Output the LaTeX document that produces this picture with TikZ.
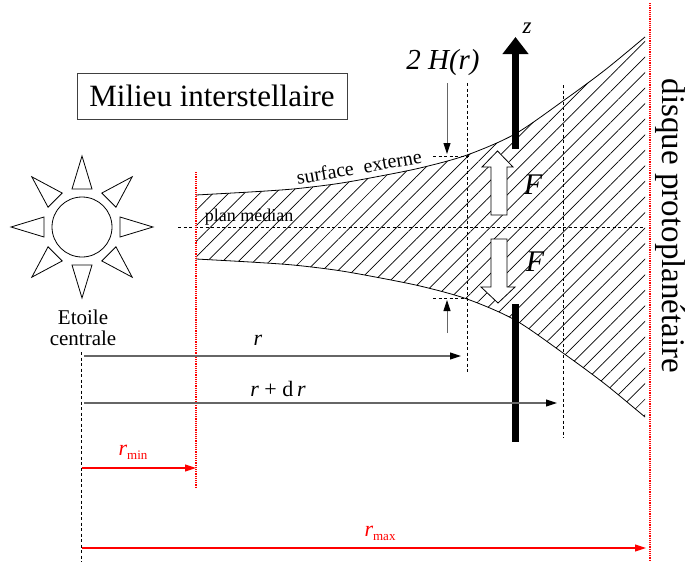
\documentclass[tikz,border=0pt]{standalone}
\usepackage{fontspec}
\setmainfont{Liberation Serif}
\usetikzlibrary{arrows.meta,patterns.meta}
\newcommand{\fsz}[1]{\fontsize{#1}{1.15\dimexpr #1pt\relax}\selectfont}
\begin{document}
\begin{tikzpicture}[x=1pt,y=-1pt,
  thinline/.style={line width=0.8pt},
  fine dash/.style={dash pattern=on 3pt off 2.5pt, line width=0.7pt},
  red dots/.style={red, line width=2.3pt, dash pattern=on 1.2pt off 1pt},
  dimarrow/.style={black!60, line width=1.1pt, -{Triangle[length=11pt,width=7pt,color=black]}},
  redarrow/.style={red, line width=1.1pt, -{Triangle[length=11pt,width=7pt]}},
  blockarrow/.style={draw, fill=white, line width=0.8pt},
  label/.style={inner sep=0pt},
]
\useasboundingbox (0,0) rectangle (688,562);

% ---- hatched disc between the two surfaces
\fill[pattern={Lines[angle=45,distance=11pt,line width=0.7pt]}]
  plot[smooth] coordinates {(196,195) (250,192) (293,189) (335,184) (370,178) (420,168) (467,155) (515,134) (563,101) (605,70) (645,37)}
  -- plot[smooth] coordinates {(645,417) (605,384) (563,353) (515,320) (467,299) (420,286) (370,276) (335,270) (293,265) (250,262) (196,259)}
  -- cycle;
\draw[thinline] plot[smooth] coordinates {(196,195) (250,192) (293,189) (335,184) (370,178) (420,168) (467,155) (515,134) (563,101) (605,70) (645,37)};
\draw[thinline] plot[smooth] coordinates {(196,259) (250,262) (293,265) (335,270) (370,276) (420,286) (467,299) (515,320) (563,353) (605,384) (645,417)};

% ---- central star
\node[circle, draw, thinline, minimum size=60pt, inner sep=0pt] (star) at (82,227) {};
\foreach \a in {0,45,...,315}
  \draw[thinline, shift={(star.center)}, rotate=\a] (38,-10) -- (71,0) -- (38,10) -- cycle;
\node[label, anchor=north, align=center, font=\fsz{21}] (starlbl) at (83,310) {Etoile\\[-3pt]centrale};

% ---- interstellar medium box
\node[draw=black!75, line width=0.9pt, minimum width=270pt, minimum height=46pt, font=\fsz{31}] (ism) at (212,96) {Milieu interstellaire};

% ---- reference lines
\coordinate (axisTop) at (81,352);   \coordinate (axisBot) at (81,562);
\draw[fine dash] (axisTop) -- (axisBot);
\coordinate (midL) at (178,227);     \coordinate (midR) at (643,227);
\draw[fine dash] (midL) -- (midR);
\coordinate (rTop) at (467,83);      \coordinate (rBot) at (467,373);
\draw[fine dash] (rTop) -- (rBot);
\coordinate (drTop) at (563,85);     \coordinate (drBot) at (563,438);
\draw[fine dash] (drTop) -- (drBot);
\coordinate (hUpL) at (433,156);     \coordinate (hUpR) at (470,156);
\draw[fine dash] (hUpL) -- (hUpR);
\coordinate (hLoL) at (433,298);     \coordinate (hLoR) at (467,298);
\draw[fine dash] (hLoL) -- (hLoR);

% ---- inner and outer radii
\coordinate (rinTop) at (196,172);   \coordinate (rinBot) at (196,488);
\draw[red dots] (rinTop) -- (rinBot);
\coordinate (routTop) at (650,3);    \coordinate (routBot) at (650,562);
\draw[red dots] (routTop) -- (routBot);

% ---- labels on the disc
\node[label, font=\fsz{18}] (plan) at (249,217) {plan médian};
\node[label, font=\fsz{20}, rotate=10] (surf) at (359,167) {surface\ \ externe};
\node[label, font=\fsz{29}\itshape] (height) at (443,63) {2 H(r)};
\node[label, font=\fsz{33}, rotate=-90] (disc) at (670,226) {disque protoplanétaire};

% ---- thickness markers
\coordinate (hA) at (447,83);   \coordinate (hB) at (447,154);
\draw[dimarrow, line width=0.9pt] (hA) -- (hB);
\coordinate (hC) at (447,333);  \coordinate (hD) at (447,300);
\draw[dimarrow, line width=0.9pt] (hC) -- (hD);

% ---- vertical axis z
\coordinate (zFoot) at (515.5,149);  \coordinate (zTip) at (515.5,37);
\draw[line width=7.5pt, -{Triangle[length=17pt,width=25pt]}] (zFoot) -- (zTip);
\node[label, font=\fsz{23}\itshape] (zlbl) at (527,28) {z};
\coordinate (zLowTop) at (515.5,304); \coordinate (zLowBot) at (515.5,442);
\draw[line width=7.5pt] (zLowTop) -- (zLowBot);

% ---- vertical forces
\draw[blockarrow] (491,215) -- (491,167) -- (482,167) -- (497.5,151) -- (513,167) -- (507,167) -- (507,215) -- cycle;
\draw[blockarrow] (491,239) -- (491,287) -- (481,287) -- (498,303) -- (515,287) -- (507,287) -- (507,239) -- cycle;
\node[label, font=\fsz{30}\itshape] (Fup) at (533,185) {F};
\node[label, font=\fsz{30}\itshape] (Fdn) at (535,262) {F};

% ---- radial distances
\coordinate (rA) at (84,356);   \coordinate (rB) at (461,356);
\draw[dimarrow] (rA) -- (rB);
\node[label, font=\fsz{22}\itshape] (rlbl) at (258,340) {r};
\coordinate (drA) at (84,403);  \coordinate (drB) at (557,403);
\draw[dimarrow] (drA) -- (drB);
\node[label, font=\fsz{22}] (drlbl) at (278,389) {\textit{r} + d\,\textit{r}};
\coordinate (minA) at (82,468); \coordinate (minB) at (196,468);
\draw[redarrow] (minA) -- (minB);
\node[label, font=\fsz{22}, red] (rminlbl) at (133,452) {\textit{r}\raisebox{-4pt}{\fsz{13}min}};
\coordinate (maxA) at (82,548); \coordinate (maxB) at (646,548);
\draw[redarrow] (maxA) -- (maxB);
\node[label, font=\fsz{22}, red] (rmaxlbl) at (380,533) {\textit{r}\raisebox{-4pt}{\fsz{13}max}};
\end{tikzpicture}
\end{document}
